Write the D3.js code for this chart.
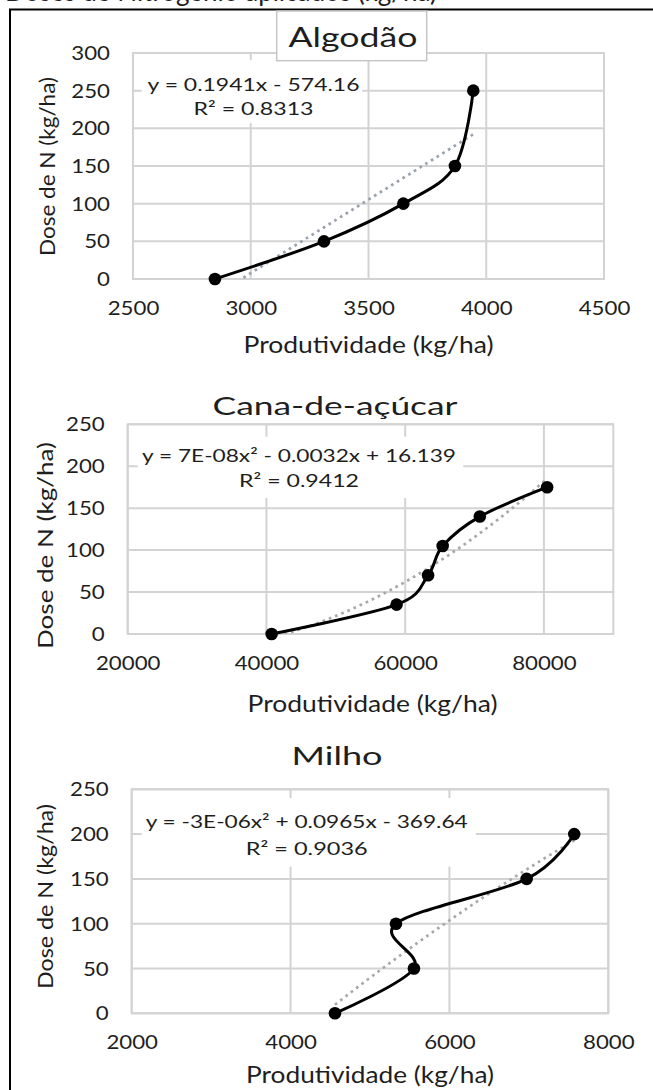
<!DOCTYPE html>
<html>
<head>
<meta charset="utf-8">
<script src="https://cdn.jsdelivr.net/npm/d3@7"></script>
<style>
body { margin: 0; background: #fff; }
text { font-family: Lato, "Open Sans", sans-serif; fill: #1e1e1e; }
</style>
</head>
<body>
<div id="chart"></div>
<script>
/* globals d3: false */

// ---- data ----
var algodaoProd = [2848, 3311, 3648, 3867, 3945];
var algodaoDose = [0, 50, 100, 150, 250];
var canaProd = [40750, 58760, 63300, 65400, 70760, 80460];
var canaDose = [0, 35, 70, 105, 140, 175];
var milhoProd = [4559, 5553, 5327, 6972, 7571];
var milhoDose = [0, 50, 100, 150, 200];

var algodaoXTicks = [2500, 3000, 3500, 4000, 4500];
var algodaoYTicks = [0, 50, 100, 150, 200, 250, 300];
var canaXTicks = [20000, 40000, 60000, 80000];
var canaYTicks = [0, 50, 100, 150, 200, 250];
var milhoXTicks = [2000, 4000, 6000, 8000];
var milhoYTicks = [0, 50, 100, 150, 200, 250];

var algodaoEq = ["y = 0.1941x - 574.16", "R² = 0.8313"];
var canaEq = ["y = 7E-08x² - 0.0032x + 16.139", "R² = 0.9412"];
var milhoEq = ["y = -3E-06x² + 0.0965x - 369.64", "R² = 0.9036"];

var titles = ["Algodão", "Cana-de-açúcar", "Milho"];
var xTitle = "Produtividade (kg/ha)";
var yTitle = "Dose de N (kg/ha)";
var heading = "Doses de Nitrogênio aplicados (kg/ha)";

var grid_color = "#d3d3d3";
var tick_size = 18.5;
var digit_w = 12.9;

// ---- layout for each panel ----
var panels = [
	{prod: algodaoProd, dose: algodaoDose, xTicks: algodaoXTicks, yTicks: algodaoYTicks,
		xDomain: [2500, 4500], yDomain: [0, 300], eq: algodaoEq, title: titles[0], degree: 1,
		plot: [133, 53, 604, 279],
		titlePos: [353, 46.7, 27, 129], titleBox: [276.7, 11, 426.7, 60.7],
		xtPos: [368.5, 353, 250], ytPos: [55, 166.5, 179],
		eqBox: [141.7, 60, 362, 123], eq1: [253.5, 90.5, 212], eq2: [253.5, 115, 120],
		trend: "#9aa2ad"},
	{prod: canaProd, dose: canaDose, xTicks: canaXTicks, yTicks: canaYTicks,
		xDomain: [20000, 90000], yDomain: [0, 250], eq: canaEq, title: titles[1], degree: 2,
		plot: [127.7, 424.3, 613.3, 634],
		titlePos: [335, 415, 25.5, 245], titleBox: null,
		xtPos: [372.5, 711.7, 250], ytPos: [53.3, 545.5, 207],
		eqBox: [137.7, 436.7, 463.3, 498], eq1: [299, 461.7, 314], eq2: [299, 486.7, 120],
		trend: "#a8a8a8"},
	{prod: milhoProd, dose: milhoDose, xTicks: milhoXTicks, yTicks: milhoYTicks,
		xDomain: [2000, 8000], yDomain: [0, 250], eq: milhoEq, title: titles[2], degree: 2,
		plot: [131.7, 789.3, 608.3, 1013.3],
		titlePos: [337, 765, 25.5, 91], titleBox: null,
		xtPos: [370, 1083, 248], ytPos: [53.3, 896.5, 185],
		eqBox: [141.7, 798, 475.7, 866.7], eq1: [306.7, 828.3, 322], eq2: [306.7, 855, 122],
		trend: "#a8a8a8"}
];

var svg = d3.select("#chart").append("svg")
	.attr("width", 653)
	.attr("height", 1090)
	.style("display", "block");

svg.append("rect").attr("width", 653).attr("height", 1090).attr("fill", "#fff");

// heading cut off by the top of the picture
svg.append("text")
	.attr("x", 437).attr("y", 0.5)
	.attr("text-anchor", "end")
	.style("font-size", "26px")
	.text(heading);

// outer frame (runs past the right and bottom edges)
svg.append("rect")
	.attr("x", 10).attr("y", 9.5)
	.attr("width", 700).attr("height", 1100)
	.attr("fill", "none")
	.attr("stroke", "#000")
	.attr("stroke-width", 2);

function label(g, s, x, y, size, len, rot) {
	var t = g.append("text")
		.attr("text-anchor", "middle")
		.attr("transform", "translate(" + x + "," + y + ")" + (rot ? " rotate(-90)" : ""))
		.style("font-size", size + "px")
		.text(s);
	if (len) t.attr("textLength", len).attr("lengthAdjust", "spacingAndGlyphs");
	return t;
}

// least squares polynomial, x centred and scaled
function polyfit(xs, ys, deg) {
	var m = d3.mean(xs), s = d3.deviation(xs);
	var ts = xs.map(function(v) { return (v - m) / s; });
	var n = deg + 1, A = [], b = [], i, j, r;
	for (i = 0; i < n; i++) {
		A.push([]);
		for (j = 0; j < n; j++) A[i].push(d3.sum(ts, function(t) { return Math.pow(t, i + j); }));
		b.push(d3.sum(ts, function(t, k) { return Math.pow(t, i) * ys[k]; }));
	}
	for (i = 0; i < n; i++) {
		for (r = i + 1; r < n; r++) {
			var f = A[r][i] / A[i][i];
			for (j = i; j < n; j++) A[r][j] -= f * A[i][j];
			b[r] -= f * b[i];
		}
	}
	var c = new Array(n);
	for (i = n - 1; i >= 0; i--) {
		var sum = b[i];
		for (j = i + 1; j < n; j++) sum -= A[i][j] * c[j];
		c[i] = sum / A[i][i];
	}
	return function(v) {
		var t = (v - m) / s, out = 0;
		for (var k = 0; k < n; k++) out += c[k] * Math.pow(t, k);
		return out;
	};
}

function drawPanel(c, idx) {
	var p = c.plot;
	var x = d3.scaleLinear().domain(c.xDomain).range([p[0], p[2]]);
	var y = d3.scaleLinear().domain(c.yDomain).range([p[3], p[1]]);
	var g = svg.append("g");

	var clipId = "clip" + idx;
	svg.append("clipPath").attr("id", clipId)
		.append("rect")
		.attr("x", p[0]).attr("y", p[1])
		.attr("width", p[2] - p[0]).attr("height", p[3] - p[1]);

	// gridlines
	g.selectAll(".hgrid").data(c.yTicks).enter().append("line")
		.attr("x1", p[0]).attr("x2", p[2])
		.attr("y1", function(d) { return y(d); })
		.attr("y2", function(d) { return y(d); })
		.attr("stroke", grid_color).attr("stroke-width", 2);
	g.selectAll(".vgrid").data(c.xTicks).enter().append("line")
		.attr("y1", p[1]).attr("y2", p[3])
		.attr("x1", function(d) { return x(d); })
		.attr("x2", function(d) { return x(d); })
		.attr("stroke", grid_color).attr("stroke-width", 2);
	g.append("rect")
		.attr("x", p[0]).attr("y", p[1])
		.attr("width", p[2] - p[0]).attr("height", p[3] - p[1])
		.attr("fill", "none").attr("stroke", grid_color).attr("stroke-width", 2);

	// label box hides the grid
	g.append("rect")
		.attr("x", c.eqBox[0]).attr("y", c.eqBox[1])
		.attr("width", c.eqBox[2] - c.eqBox[0]).attr("height", c.eqBox[3] - c.eqBox[1])
		.attr("fill", "#fff");

	// trendline over the data range
	var fit = polyfit(c.prod, c.dose, c.degree);
	var lo = d3.min(c.prod), hi = d3.max(c.prod);
	var tx = d3.range(0, 101).map(function(k) { return lo + (hi - lo) * k / 100; });
	g.append("path")
		.datum(tx)
		.attr("clip-path", "url(#" + clipId + ")")
		.attr("fill", "none")
		.attr("stroke", c.trend)
		.attr("stroke-width", 2.7)
		.attr("stroke-dasharray", "2.7,4")
		.attr("d", d3.line()
			.x(function(d) { return x(d); })
			.y(function(d) { return y(fit(d)); }));

	// smoothed series
	var pts = c.prod.map(function(v, i) { return [v, c.dose[i]]; });
	g.append("path")
		.datum(pts)
		.attr("fill", "none")
		.attr("stroke", "#000")
		.attr("stroke-width", 3)
		.attr("d", d3.line()
			.x(function(d) { return x(d[0]); })
			.y(function(d) { return y(d[1]); })
			.curve(d3.curveCardinal.tension(0)));

	g.selectAll(".pt").data(pts).enter().append("circle")
		.attr("cx", function(d) { return x(d[0]); })
		.attr("cy", function(d) { return y(d[1]); })
		.attr("r", 6.3)
		.attr("fill", "#000");

	// axes
	var ya = g.append("g")
		.attr("transform", "translate(" + p[0] + ",0)")
		.call(d3.axisLeft(y).tickValues(c.yTicks).tickSize(0).tickFormat(d3.format("d")));
	ya.select(".domain").remove();
	ya.selectAll("text")
		.attr("x", -23).attr("dy", null).attr("y", 6.6)
		.style("font-size", tick_size + "px")
		.attr("textLength", function(d) { return String(d).length * digit_w; })
		.attr("lengthAdjust", "spacingAndGlyphs");

	var xa = g.append("g")
		.attr("transform", "translate(0," + p[3] + ")")
		.call(d3.axisBottom(x).tickValues(c.xTicks).tickSize(0).tickFormat(d3.format("d")));
	xa.select(".domain").remove();
	xa.selectAll("text")
		.attr("y", 36).attr("dy", null)
		.style("font-size", tick_size + "px")
		.attr("textLength", function(d) { return String(d).length * digit_w; })
		.attr("lengthAdjust", "spacingAndGlyphs");

	// equation
	label(g, c.eq[0], c.eq1[0], c.eq1[1], 17.5, c.eq1[2]);
	label(g, c.eq[1], c.eq2[0], c.eq2[1], 17.5, c.eq2[2]);

	// titles
	if (c.titleBox) {
		g.append("rect")
			.attr("x", c.titleBox[0]).attr("y", c.titleBox[1])
			.attr("width", c.titleBox[2] - c.titleBox[0]).attr("height", c.titleBox[3] - c.titleBox[1])
			.attr("fill", "#fff").attr("stroke", "#c6c6c6").attr("stroke-width", 1.5);
	}
	label(g, c.title, c.titlePos[0], c.titlePos[1], c.titlePos[2], c.titlePos[3]);
	label(g, xTitle, c.xtPos[0], c.xtPos[1], 23.5, c.xtPos[2]);
	label(g, yTitle, c.ytPos[0], c.ytPos[1], 22, c.ytPos[2], true);
}

panels.forEach(drawPanel);
</script>
</body>
</html>
